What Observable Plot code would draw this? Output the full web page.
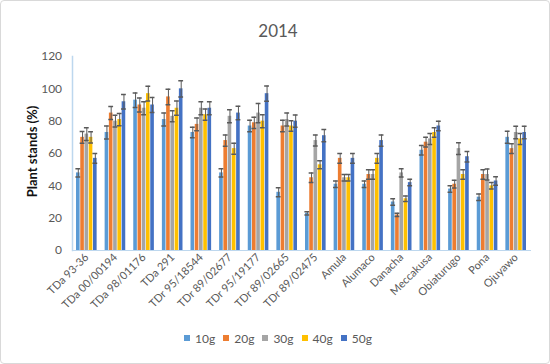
<!DOCTYPE html>
<html>
<head>
<meta charset="utf-8">
<script src="https://cdn.jsdelivr.net/npm/d3@7"></script>
<script src="https://cdn.jsdelivr.net/npm/@observablehq/plot@0.6"></script>
<style>
  html, body { margin: 0; padding: 0; background: white; }
  #chart { width: 548px; height: 362px; border: 1px solid #D9D9D9; border-radius: 4px; background: white; font-family: Lato, "Open Sans", sans-serif; color: #595959; overflow: hidden; }
  #title { height: 44px; box-sizing: border-box; padding-top: 21px; padding-left: 6px; font-size: 17px; line-height: 17px; text-align: center; color: #595959; }
  #legend { height: 26px; display: flex; justify-content: center; align-items: center; font-size: 12px; color: #595959; padding-left: 6px; }
  .item { display: flex; align-items: center; margin: 0 4px; }
  .sw { width: 6px; height: 6px; margin-right: 5px; }
  svg { display: block; }
</style>
</head>
<body>
<div id="chart">
  <div id="title">2014</div>
  <div id="plot"></div>
  <div id="legend"></div>
</div>
<script>
const categories = ["TDa 93-36", "TDa 00/00194", "TDa 98/01176", "TDa 291", "TDr 95/18544", "TDr 89/02677", "TDr 95/19177", "TDr 89/02665", "TDr 89/02475", "Amula", "Alumaco", "Danacha", "Meccakusa", "Obiaturugo", "Pona", "Ojuyawo"];
const series = ["10g", "20g", "30g", "40g", "50g"];
const colors = ["#5B9BD5", "#ED7D31", "#A5A5A5", "#FFC000", "#4472C4"];
const yTicks = [0, 20, 40, 60, 80, 100, 120];

const v10 = [48, 73, 93, 81, 73, 48, 77, 36, 23, 41, 41, 30, 62, 38, 33, 70];
const v20 = [70, 85, 90, 95, 78, 68, 79, 77, 45, 57, 47, 22, 67, 41, 47, 63];
const v30 = [72, 80, 88, 83, 88, 83, 85, 81, 68, 45, 47, 48, 69, 63, 47, 73];
const v40 = [70, 81, 97, 88, 84, 63, 80, 77, 53, 45, 57, 32, 73, 47, 40, 69];
const v50 = [57, 92, 90, 100, 88, 85, 97, 80, 71, 57, 68, 42, 77, 58, 43, 73];

const e10 = [2.5, 4, 4.5, 4, 3.3, 2.5, 3.6, 2.8, 1, 2, 2, 2, 3, 2, 2, 3.7];
const e20 = [3.6, 4, 4.3, 4.8, 4, 3.5, 3.5, 3.6, 3, 3, 3, 1, 3, 2.4, 3, 3];
const e30 = [4, 3.6, 4, 3.4, 4, 4, 6, 4, 3.4, 2, 3, 2.6, 3.4, 3.6, 3.4, 3.8];
const e40 = [3.5, 3.8, 4.6, 4.4, 3.5, 3.4, 4, 3.3, 2.5, 2, 3, 1.7, 3, 3, 2, 3.4];
const e50 = [3, 4.5, 4.7, 5, 4, 4.2, 4.7, 3.8, 3.8, 3, 3.5, 2, 3, 3.2, 2.6, 3.8];

const values = [v10, v20, v30, v40, v50];
const errors = [e10, e20, e30, e40, e50];

const rows = [];
categories.forEach((c, i) => series.forEach((s, j) => rows.push({cat: c, s, v: values[j][i], e: errors[j][i]})));

const errColor = "#595959";
const axisColor = "#BDD7EE";

const W = 548, mL = 71, mR = 19;
const fxOuter = 0.125;
// gap between the plot edge and the first/last group (fx outer padding)
const outerPad = fxOuter * (W - mL - mR) / categories.length;

const chart = Plot.plot({
  width: W, height: 280,
  marginTop: 11, marginBottom: 75, marginLeft: mL, marginRight: mR,
  style: {fontFamily: "Lato, 'Open Sans', sans-serif", fontSize: "11px", color: "#595959", background: "white"},
  fx: {domain: categories, paddingInner: 0.25, paddingOuter: fxOuter, round: false, label: null, axis: null},
  x: {domain: series, paddingInner: 0.15, paddingOuter: 0.1, round: false, axis: null},
  y: {domain: [0, 120], label: null, axis: null},
  color: {domain: series, range: colors},
  marks: [
    Plot.barY(rows, {fx: "cat", x: "s", y: "v", fill: "s"}),
    Plot.ruleX(rows, {fx: "cat", x: "s", y1: d => d.v - d.e, y2: d => d.v + d.e, stroke: errColor, strokeWidth: 1}),
    Plot.tickY(rows, {fx: "cat", x: "s", y: d => d.v - d.e, stroke: errColor, strokeWidth: 1.5, insetLeft: -0.6, insetRight: -0.6}),
    Plot.tickY(rows, {fx: "cat", x: "s", y: d => d.v + d.e, stroke: errColor, strokeWidth: 1.5, insetLeft: -0.6, insetRight: -0.6}),
    Plot.frame({anchor: "bottom", facet: "super", stroke: axisColor, strokeWidth: 1, insetLeft: -outerPad, insetRight: -outerPad}),
    Plot.frame({anchor: "left", facet: "super", stroke: axisColor, strokeWidth: 1.5, insetLeft: -outerPad}),
    Plot.axisY({anchor: "left", ticks: yTicks, tickSize: 0, tickPadding: 14, label: null, fontSize: 12}),
    Plot.axisFx({anchor: "bottom", tickRotate: -45, tickSize: 0, tickPadding: 5, label: null, fontSize: 11}),
    Plot.text(["Plant stands (%)"], {facet: "super", frameAnchor: "left", rotate: -90, dx: -43.6, dy: -2, textAnchor: "middle", lineAnchor: "middle", text: d => d, fontWeight: "bold", fontSize: 13, fill: "#111111"})
  ]
});
document.getElementById("plot").appendChild(chart);

const legend = document.getElementById("legend");
series.forEach((s, j) => {
  const item = document.createElement("div");
  item.className = "item";
  const sw = document.createElement("div");
  sw.className = "sw";
  sw.style.background = colors[j];
  const t = document.createElement("span");
  t.textContent = s;
  item.appendChild(sw);
  item.appendChild(t);
  legend.appendChild(item);
});
</script>
</body>
</html>
